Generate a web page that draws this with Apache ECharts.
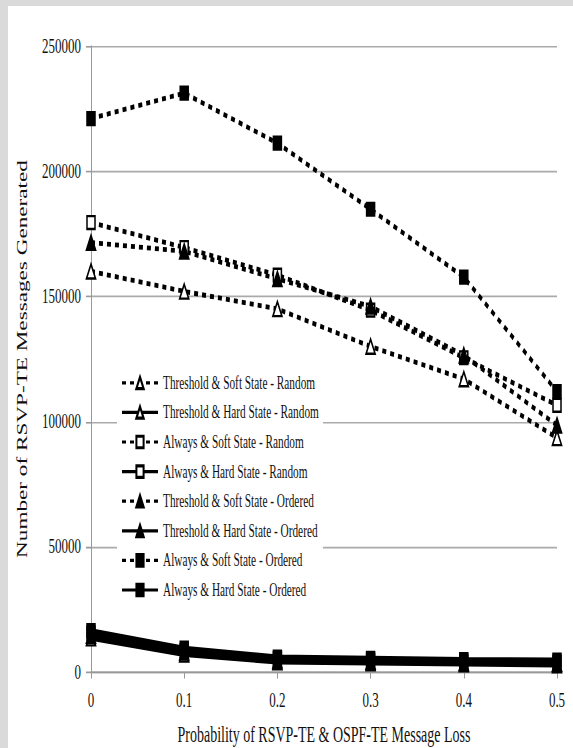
<!DOCTYPE html>
<html>
<head>
<meta charset="utf-8">
<script src="https://cdn.jsdelivr.net/npm/echarts@6/dist/echarts.min.js"></script>
<style>
html,body{margin:0;padding:0;background:#dadada;width:573px;height:748px;overflow:hidden;}
#chart{position:absolute;left:8px;top:6px;width:565px;height:464px;background:#fff;transform:scaleY(1.6);transform-origin:0 0;}
</style>
</head>
<body>
<div id="chart"></div>
<script>
// x values (probability of message loss)
var xValues = [0, 0.1, 0.2, 0.3, 0.4, 0.5];
var yTicks = [0, 50000, 100000, 150000, 200000, 250000];

var seriesNames = [
  'Threshold & Soft State - Random',
  'Threshold & Hard State - Random',
  'Always & Soft State - Random',
  'Always & Hard State - Random',
  'Threshold & Soft State - Ordered',
  'Threshold & Hard State - Ordered',
  'Always & Soft State - Ordered',
  'Always & Hard State - Ordered'
];

var thresholdSoftRandom  = [160000, 152000, 145000, 130000, 117000, 93500];
var thresholdHardRandom  = [13500, 7000, 4000, 3600, 3200, 2800];
var alwaysSoftRandom     = [179500, 169500, 158500, 144500, 125500, 106500];
var alwaysHardRandom     = [15500, 8500, 5300, 4800, 4300, 4000];
var thresholdSoftOrdered = [171500, 168000, 157000, 146000, 126500, 98500];
var thresholdHardOrdered = [14500, 7800, 4700, 4200, 3700, 3400];
var alwaysSoftOrdered    = [221000, 231200, 211200, 184800, 157700, 112000];
var alwaysHardOrdered    = [16500, 9500, 6000, 5500, 5000, 4800];

var values = [thresholdSoftRandom, thresholdHardRandom, alwaysSoftRandom, alwaysHardRandom,
              thresholdSoftOrdered, thresholdHardOrdered, alwaysSoftOrdered, alwaysHardOrdered];
var symbols = ['triangle','triangle','rect','rect','triangle','triangle','rect','rect'];
var filled  = [false,false,false,false,true,true,true,true];
var dashed  = [true,false,true,false,true,false,true,false];

var FONT = 'Liberation Serif';

function pairs(arr){ return arr.map(function(v,i){ return [xValues[i], v]; }); }

var series = seriesNames.map(function(name, k){
  return {
    name: name,
    type: 'line',
    data: pairs(values[k]),
    symbol: symbols[k],
    symbolSize: symbols[k] === 'rect' ? 8 : 9,
    showSymbol: true,
    animation: false,
    lineStyle: {
      color: '#000',
      width: dashed[k] ? 3 : 3.2,
      type: dashed[k] ? [4, 4] : 'solid'
    },
    itemStyle: {
      color: filled[k] ? '#000' : '#fff',
      borderColor: '#000',
      borderWidth: 1.5
    },
    z: dashed[k] ? 3 : 2
  };
});

var chart = echarts.init(document.getElementById('chart'), null, {renderer: 'svg'});
chart.setOption({
  animation: false,
  backgroundColor: '#fff',
  grid: {left: 83, right: 16, top: 25, bottom: 47.75, containLabel: false, outerBoundsMode: 'none'},
  legend: {
    orient: 'vertical',
    left: 109,
    top: 226,
    data: seriesNames,
    backgroundColor: '#fff',
    padding: [4, 4, 4, 4],
    itemWidth: 36,
    itemHeight: 9,
    itemGap: 7.5,
    textStyle: {fontFamily: FONT, fontSize: 11.3, color: '#111', lineHeight: 9}
  },
  xAxis: {
    type: 'value',
    min: 0, max: 0.5, interval: 0.1,
    name: 'Probability of RSVP-TE & OSPF-TE Message Loss',
    nameLocation: 'middle',
    nameGap: 32,
    nameTextStyle: {fontFamily: FONT, fontSize: 14, color: '#111'},
    axisLine: {show: true, lineStyle: {color: '#999', width: 1}},
    axisTick: {show: true, length: 4, lineStyle: {color: '#999'}},
    axisLabel: {
      fontFamily: FONT, fontSize: 13, color: '#111', margin: 11,
      formatter: function(v){ return String(Math.round(v*10)/10); }
    },
    splitLine: {show: false}
  },
  yAxis: {
    type: 'value',
    min: 0, max: 250000, interval: 50000,
    name: 'Number of RSVP-TE Messages Generated',
    nameLocation: 'middle',
    nameGap: 61,
    nameTextStyle: {fontFamily: FONT, fontSize: 14.5, color: '#111'},
    axisLine: {show: true, lineStyle: {color: '#999', width: 1}},
    axisTick: {show: true, length: 5, lineStyle: {color: '#999'}},
    axisLabel: {fontFamily: FONT, fontSize: 13, color: '#111', margin: 10,
      formatter: function(v){ return String(v); }},
    splitLine: {show: true, lineStyle: {color: '#aaa', width: 1}}
  },
  series: series
});
</script>
</body>
</html>
